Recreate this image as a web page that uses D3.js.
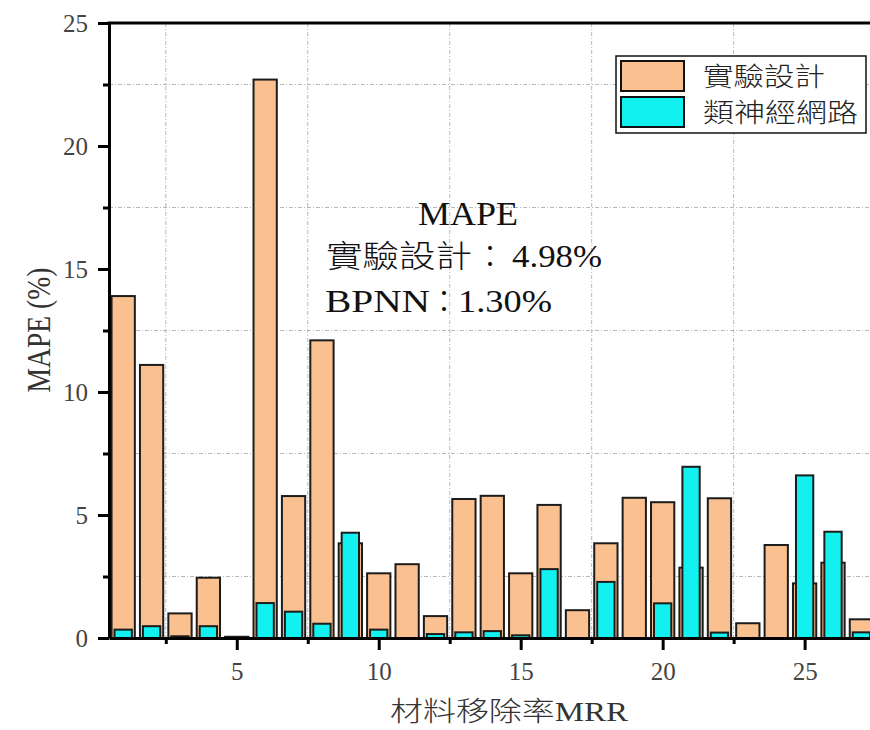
<!DOCTYPE html>
<html>
<head>
<meta charset="utf-8">
<script src="https://cdn.jsdelivr.net/npm/d3@7"></script>
<style>
  html, body { margin: 0; padding: 0; background: #fff; overflow: hidden; }
  svg { display: block; }
</style>
</head>
<body>
<div id="chart"></div>
<script>
// Sample index along the x axis
const categories = [1, 2, 3, 4, 5, 6, 7, 8, 9, 10, 11, 12, 13, 14, 15, 16, 17, 18, 19, 20, 21, 22, 23, 24, 25, 26, 27];
// MAPE (%) of the design-of-experiments model
const doeValues = [13.9, 11.1, 1.0, 2.45, 0.05, 22.7, 5.77, 12.1, 3.85, 2.63, 3.0, 0.89, 5.65, 5.78, 2.63, 5.41, 1.13, 3.85, 5.7, 5.52, 2.86, 5.68, 0.6, 3.78, 2.22, 3.06, 0.76];
// MAPE (%) of the back-propagation neural network
const annValues = [0.34, 0.48, 0.07, 0.48, 0.04, 1.42, 1.07, 0.58, 4.28, 0.34, 0, 0.16, 0.23, 0.28, 0.11, 2.8, 0, 2.28, 0, 1.41, 6.96, 0.22, 0, 0, 6.61, 4.32, 0.23];
const seriesNames = ["實驗設計", "類神經網路"];
const xMajorTicks = [5, 10, 15, 20, 25];
const xMinorTicks = [2.5, 7.5, 12.5, 17.5, 22.5, 27.5];
const yMajorTicks = [0, 5, 10, 15, 20, 25];
const yMinorTicks = [2.5, 7.5, 12.5, 17.5, 22.5];
const summaryTitle = "MAPE";
const summaryLines = [["實驗設計", "4.98%"], ["BPNN", "1.30%"]];

const W = 870, H = 730;
const colors = { doe: "#FAC08F", ann: "#12F0F0", edge: "#1c1c1c", grid: "#b8b8b8" };
const serif = "'Liberation Serif', 'Times New Roman', serif";
const cjk = "'Noto Sans CJK TC', 'Noto Sans CJK SC', sans-serif";
const mixed = "'Liberation Serif', 'Noto Sans CJK TC', serif";

const svg = d3.select("#chart").append("svg")
  .attr("width", W).attr("height", H)
  .attr("viewBox", `0 0 ${W} ${H}`);

// The frame runs past the right edge of the page
const x = d3.scaleLinear().domain([0.5, 28.5]).range([109, 904]);
const y = d3.scaleLinear().domain([0, 25]).range([638, 23]);
const unit = x(1) - x(0);

// Dash-dot grid at the minor tick positions
const grid = svg.append("g").attr("stroke", colors.grid).attr("stroke-width", 1)
  .attr("stroke-dasharray", "4,2,1,2");
grid.selectAll("line.v").data(xMinorTicks).join("line").attr("class", "v")
  .attr("x1", d => x(d)).attr("x2", d => x(d)).attr("y1", y(25)).attr("y2", y(0));
grid.selectAll("line.h").data(yMinorTicks).join("line").attr("class", "h")
  .attr("x1", x(0.5)).attr("x2", x(28.5)).attr("y1", d => y(d)).attr("y2", d => y(d));

// Bars: the DOE series is wide, the ANN series narrower and drawn in front
const doeW = 0.82 * unit, annW = 0.61 * unit;
svg.append("g").selectAll("rect").data(categories.map((c, i) => ({ c, v: doeValues[i] })))
  .join("rect")
  .attr("x", d => x(d.c) - doeW / 2).attr("width", doeW)
  .attr("y", d => y(d.v)).attr("height", d => y(0) - y(d.v))
  .attr("fill", colors.doe).attr("stroke", colors.edge).attr("stroke-width", 2);
svg.append("g").selectAll("rect").data(categories.map((c, i) => ({ c, v: annValues[i] })).filter(d => d.v > 0))
  .join("rect")
  .attr("x", d => x(d.c) - annW / 2).attr("width", annW)
  .attr("y", d => y(d.v)).attr("height", d => y(0) - y(d.v))
  .attr("fill", colors.ann).attr("stroke", colors.edge).attr("stroke-width", 2);

// Axes
function styleAxis(g) {
  g.select(".domain").attr("stroke", "#000").attr("stroke-width", 3);
  g.selectAll(".tick line").attr("stroke", "#000").attr("stroke-width", 3);
  g.selectAll(".tick text").attr("font-family", serif).attr("font-size", 25).attr("fill", "#444");
}
svg.append("g").attr("transform", `translate(0,${y(0)})`)
  .call(d3.axisBottom(x).tickValues(xMajorTicks).tickFormat(d3.format("d")).tickSize(12).tickSizeOuter(0).tickPadding(12))
  .call(styleAxis);
svg.append("g").attr("transform", `translate(0,${y(0)})`)
  .call(d3.axisBottom(x).tickValues(xMinorTicks).tickFormat("").tickSize(6).tickSizeOuter(0))
  .call(g => { g.select(".domain").remove(); g.selectAll(".tick line").attr("stroke", "#000").attr("stroke-width", 3); });

svg.append("g").attr("transform", `translate(${x(0.5)},0)`)
  .call(d3.axisLeft(y).tickValues(yMajorTicks).tickFormat(d3.format("d")).tickSize(11).tickSizeOuter(0).tickPadding(10))
  .call(styleAxis);
svg.append("g").attr("transform", `translate(${x(0.5)},0)`)
  .call(d3.axisLeft(y).tickValues(yMinorTicks).tickFormat("").tickSize(6).tickSizeOuter(0))
  .call(g => { g.select(".domain").remove(); g.selectAll(".tick line").attr("stroke", "#000").attr("stroke-width", 3); });

// Top frame line
svg.append("line").attr("x1", x(0.5) - 1.5).attr("x2", W).attr("y1", y(25)).attr("y2", y(25))
  .attr("stroke", "#000").attr("stroke-width", 3);

// Axis titles
svg.append("text").attr("x", 390).attr("y", 721)
  .attr("font-family", mixed).attr("font-size", 27).attr("font-weight", 300).attr("fill", "#333")
  .attr("textLength", 238).attr("lengthAdjust", "spacingAndGlyphs")
  .text("材料移除率MRR");
svg.append("text").attr("transform", "translate(50,330) rotate(-90)")
  .attr("text-anchor", "middle")
  .attr("font-family", serif).attr("font-size", 33).attr("fill", "#333")
  .attr("textLength", 125).attr("lengthAdjust", "spacingAndGlyphs")
  .text("MAPE (%)");

// Legend
const legend = svg.append("g");
legend.append("rect").attr("x", 616).attr("y", 56).attr("width", 250).attr("height", 77)
  .attr("fill", "#fff").attr("stroke", "#111").attr("stroke-width", 1.5);
const legendItems = [
  { name: seriesNames[0], color: colors.doe, y: 61, len: 122 },
  { name: seriesNames[1], color: colors.ann, y: 97, len: 155 }
];
legend.selectAll("rect.sw").data(legendItems).join("rect").attr("class", "sw")
  .attr("x", 621).attr("y", d => d.y).attr("width", 63).attr("height", 30)
  .attr("fill", d => d.color).attr("stroke", "#111").attr("stroke-width", 2);
legend.selectAll("text").data(legendItems).join("text")
  .attr("x", 703).attr("y", d => d.y + 25)
  .attr("font-family", cjk).attr("font-size", 26).attr("font-weight", 300).attr("fill", "#222")
  .attr("textLength", d => d.len).attr("lengthAdjust", "spacingAndGlyphs")
  .text(d => d.name);

// Summary annotation: title, then "label：value" lines
const note = svg.append("g").attr("fill", "#111");
note.append("text").attr("x", 468).attr("y", 225).attr("text-anchor", "middle")
  .attr("font-family", serif).attr("font-size", 34)
  .attr("textLength", 100).attr("lengthAdjust", "spacingAndGlyphs")
  .text(summaryTitle);
const lineLayout = [
  { y: 267, x1: 326, l1: 146, c: 490, x2: 512, l2: 90, labelFont: cjk },
  { y: 312, x1: 325, l1: 105, c: 444, x2: 458, l2: 94, labelFont: serif }
];
summaryLines.forEach((parts, i) => {
  const p = lineLayout[i];
  note.append("text").attr("x", p.x1).attr("y", p.y)
    .attr("font-family", p.labelFont).attr("font-size", 31).attr("font-weight", 300)
    .attr("textLength", p.l1).attr("lengthAdjust", "spacingAndGlyphs")
    .text(parts[0]);
  note.append("text").attr("x", p.c).attr("y", p.y).attr("text-anchor", "middle")
    .attr("font-family", cjk).attr("font-size", 31).attr("font-weight", 300)
    .text("：");
  note.append("text").attr("x", p.x2).attr("y", p.y)
    .attr("font-family", serif).attr("font-size", 31)
    .attr("textLength", p.l2).attr("lengthAdjust", "spacingAndGlyphs")
    .text(parts[1]);
});
</script>
</body>
</html>
